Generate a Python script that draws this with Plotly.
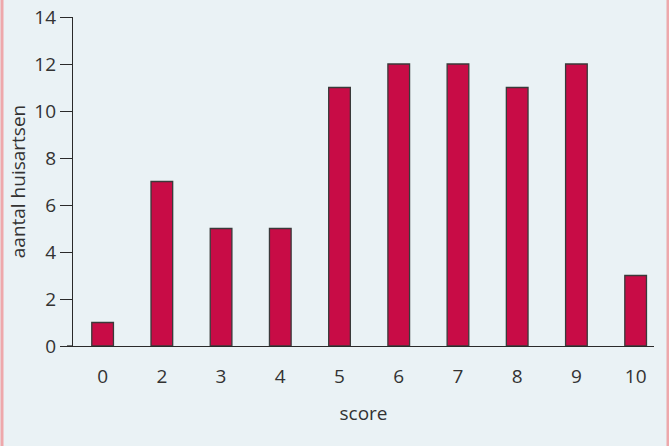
import plotly.graph_objects as go

categories = ["0", "2", "3", "4", "5", "6", "7", "8", "9", "10"]
counts = [1, 7, 5, 5, 11, 12, 12, 11, 12, 3]
y_ticks = [0, 2, 4, 6, 8, 10, 12, 14]

W, H = 669, 446
ML, MR, MT, MB = 73, 15, 17, 100
PW = W - ML - MR

bg = "#eaf2f5"
pink = "#eea8ab"
axis_col = "#2a2a2a"
font_fam = "Open Sans, Noto Sans, sans-serif"

fig = go.Figure(
    go.Bar(
        x=categories,
        y=counts,
        width=0.366,
        marker=dict(color="#c80c46", line=dict(color="#3a3a3a", width=1.3)),
    )
)

def px2paper(p):
    return (p - ML) / PW

fig.update_layout(
    width=W,
    height=H,
    margin=dict(l=ML, r=MR, t=MT, b=MB, autoexpand=False),
    paper_bgcolor=bg,
    plot_bgcolor=bg,
    showlegend=False,
    font=dict(family=font_fam, size=19, color="#333333"),
    xaxis=dict(
        type="category",
        automargin=False,
        range=[-0.5, 9.31],
        showgrid=False,
        zeroline=False,
        showline=True,
        linecolor=axis_col,
        linewidth=1.3,
        ticks="",
        ticklabelstandoff=13,
        tickfont=dict(size=19),
        title=dict(text="score", font=dict(size=19), standoff=18),
    ),
    yaxis=dict(
        automargin=False,
        range=[0, 14],
        tickvals=y_ticks,
        showgrid=False,
        zeroline=False,
        showline=True,
        linecolor=axis_col,
        linewidth=1.3,
        ticks="outside",
        ticklen=12,
        tickwidth=1.3,
        tickcolor=axis_col,
        tickfont=dict(size=19),
        title=dict(text="aantal huisartsen", font=dict(size=19), standoff=3),
    ),
    shapes=[
        dict(type="line", xref="paper", yref="y", x0=px2paper(67), x1=0, y0=0, y1=0,
             line=dict(color=axis_col, width=1.3)),
        dict(type="rect", xref="paper", yref="paper", x0=px2paper(0.5), x1=px2paper(3.5),
             y0=-1, y1=2, fillcolor=pink, line=dict(width=0), layer="above"),
        dict(type="rect", xref="paper", yref="paper", x0=px2paper(666.5), x1=px2paper(670),
             y0=-1, y1=2, fillcolor=pink, line=dict(width=0), layer="above"),
    ],
)

fig.write_html(
    "out.html",
    config={"displayModeBar": False},
    post_script="document.body.style.margin='0';document.body.style.overflow='hidden';",
)
